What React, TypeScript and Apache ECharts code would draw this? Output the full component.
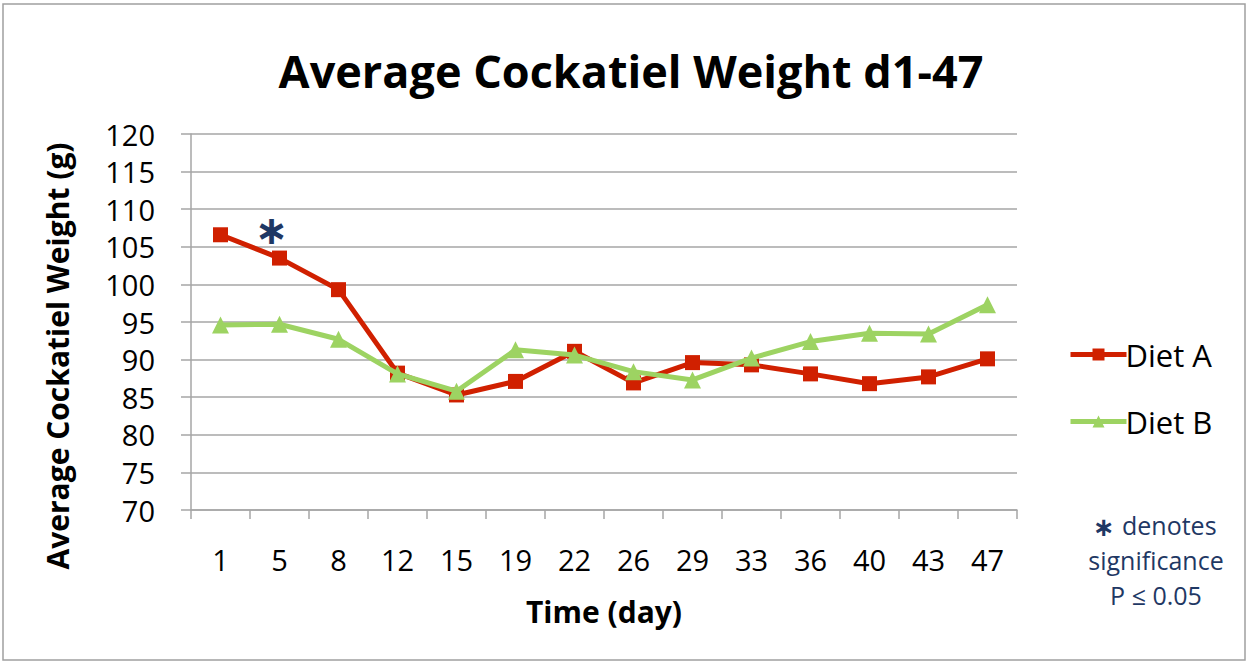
import React, { useEffect, useRef } from "react";
import * as echarts from "echarts";

const days = ["1", "5", "8", "12", "15", "19", "22", "26", "29", "33", "36", "40", "43", "47"];
const dietA = [106.6, 103.5, 99.3, 88.2, 85.3, 87.1, 91.1, 86.9, 89.6, 89.3, 88.1, 86.8, 87.7, 90.1];
const dietB = [94.6, 94.7, 92.7, 88.1, 85.8, 91.3, 90.6, 88.4, 87.3, 90.2, 92.4, 93.5, 93.4, 97.3];
const yMin = 70;
const yMax = 120;
const yStep = 5;
const significantIndex = 1;
const significantMarkValue = 107.2;

const FONT = "'Open Sans', sans-serif";
const RED = "#D02000";
const GREEN = "#9DD362";
const NAVY = "#1F3864";
const GRID = "#A6A6A6";

export default function App() {
  const ref = useRef<HTMLDivElement>(null);
  useEffect(() => {
    document.body.style.margin = "0";
    const chart = echarts.init(ref.current!, undefined, { renderer: "svg" });
    chart.setOption({
      animation: false,
      backgroundColor: "#ffffff",
      textStyle: { fontFamily: FONT },
      grid: { left: 191, right: 233, top: 134, bottom: 156 },
      xAxis: {
        type: "category",
        data: days,
        boundaryGap: true,
        name: "Time (day)",
        nameLocation: "middle",
        nameGap: 86,
        nameTextStyle: { fontFamily: FONT, fontSize: 30, fontWeight: "bold", color: "#000" },
        axisLine: { lineStyle: { color: GRID, width: 1.5 } },
        axisTick: { show: true, length: 9, alignWithLabel: false, lineStyle: { color: GRID, width: 1.5 } },
        axisLabel: { fontFamily: FONT, fontSize: 29, color: "#000", margin: 35 },
      },
      yAxis: {
        type: "value",
        min: yMin,
        max: yMax,
        interval: yStep,
        axisLine: { show: true, lineStyle: { color: GRID, width: 1.5 } },
        axisTick: { show: true, length: 10, lineStyle: { color: GRID, width: 1.5 } },
        axisLabel: { fontFamily: FONT, fontSize: 29, color: "#000", margin: 36 },
        splitLine: { show: true, lineStyle: { color: GRID, width: 1.5 } },
      },
      legend: {
        orient: "vertical",
        left: 1063,
        top: 334,
        itemWidth: 56,
        itemHeight: 15,
        itemGap: 36,
        lineStyle: { width: 5 },
        textStyle: { fontFamily: FONT, fontSize: 31, color: "#000", padding: [0, 0, 0, -6] },
        data: ["Diet A", "Diet B"],
      },
      series: [
        {
          name: "Diet A",
          type: "line",
          data: dietA,
          color: RED,
          symbol: "rect",
          symbolSize: 15,
          lineStyle: { color: RED, width: 5 },
          itemStyle: { color: RED },
          markPoint: {
            symbol: "circle",
            symbolSize: 0,
            data: [{ coord: [significantIndex, significantMarkValue] }],
            label: {
              show: true,
              formatter: "∗",
              fontFamily: "'DejaVu Sans', sans-serif",
              fontSize: 40,
              fontWeight: "bold",
              color: NAVY,
              offset: [-8, 0],
            },
          },
          z: 2,
        },
        {
          name: "Diet B",
          type: "line",
          data: dietB,
          color: GREEN,
          symbol: "triangle",
          symbolSize: 17,
          lineStyle: { color: GREEN, width: 5 },
          itemStyle: { color: GREEN },
          z: 3,
        },
      ],
      graphic: [
        {
          type: "rect",
          shape: { x: 3, y: 4, width: 1242, height: 656 },
          style: { fill: "none", stroke: "#A0A0A0", lineWidth: 1.5 },
          silent: true,
        },
        {
          type: "text",
          x: 631,
          y: 70,
          style: {
            text: "Average Cockatiel Weight d1-47",
            font: `bold 45px ${FONT}`,
            fill: "#000",
            textAlign: "center",
            textVerticalAlign: "middle",
          },
        },
        {
          type: "text",
          x: 57,
          y: 356,
          rotation: Math.PI / 2,
          style: {
            text: "Average Cockatiel Weight (g)",
            font: `bold 30px ${FONT}`,
            fill: "#000",
            textAlign: "center",
            textVerticalAlign: "middle",
          },
        },
        {
          type: "text",
          x: 1104,
          y: 527,
          style: {
            text: "∗",
            font: `bold 26px 'DejaVu Sans', sans-serif`,
            fill: NAVY,
            textAlign: "center",
            textVerticalAlign: "middle",
          },
        },
        {
          type: "text",
          x: 1122,
          y: 525,
          style: {
            text: "denotes",
            font: `25px ${FONT}`,
            fill: NAVY,
            textAlign: "left",
            textVerticalAlign: "middle",
          },
        },
        {
          type: "text",
          x: 1156,
          y: 560,
          style: {
            text: "significance",
            font: `25px ${FONT}`,
            fill: NAVY,
            textAlign: "center",
            textVerticalAlign: "middle",
          },
        },
        {
          type: "text",
          x: 1156,
          y: 595,
          style: {
            text: "P ≤ 0.05",
            font: `25px ${FONT}`,
            fill: NAVY,
            textAlign: "center",
            textVerticalAlign: "middle",
          },
        },
      ],
    });
    return () => chart.dispose();
  }, []);
  return (
    <div
      ref={ref}
      style={{ position: "fixed", left: 0, top: 0, width: 1250, height: 666 }}
    />
  );
}
